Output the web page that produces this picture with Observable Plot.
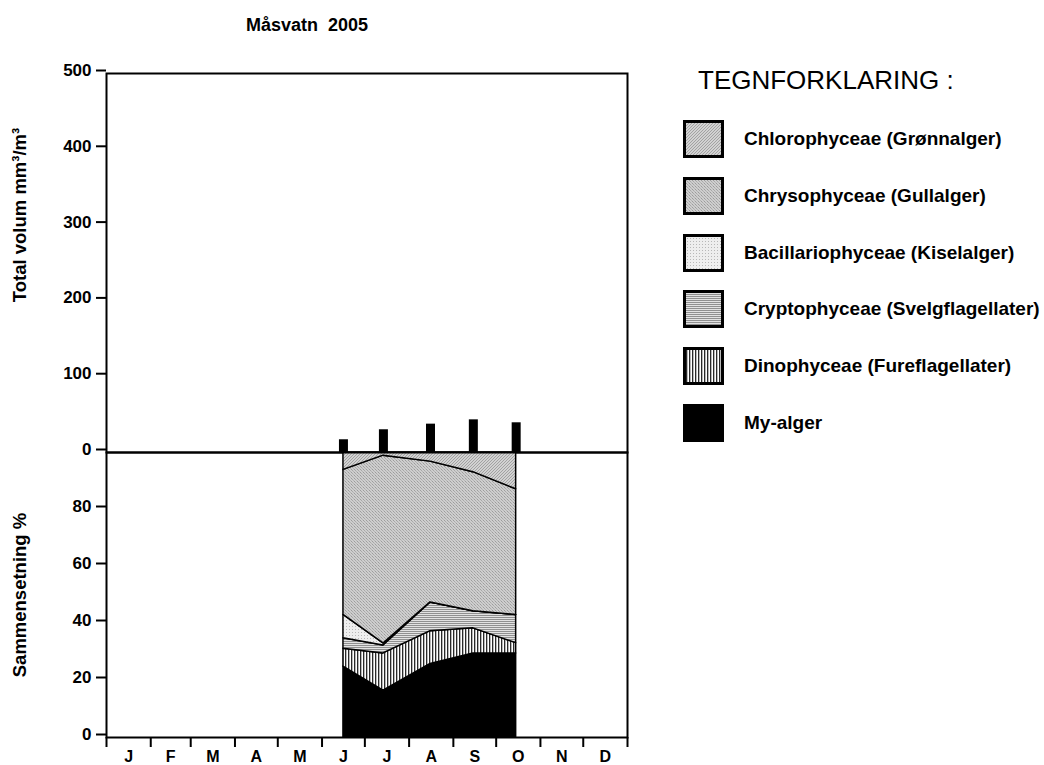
<!DOCTYPE html>
<html>
<head>
<meta charset="utf-8">
<script src="https://cdn.jsdelivr.net/npm/d3@7"></script>
<script src="https://cdn.jsdelivr.net/npm/@observablehq/plot@0.6"></script>
<style>
  html, body { margin: 0; padding: 0; background: white; }
  #wrap { position: relative; width: 1044px; height: 765px; font-family: "Liberation Sans", Arial, sans-serif; color: black; overflow: hidden; }
  .abs { position: absolute; }
  .ytitle { position: absolute; font-weight: bold; font-size: 18.5px; white-space: nowrap; transform: translate(-50%, -50%) rotate(-90deg); }
  .legitem { position: absolute; left: 683px; display: flex; align-items: center; height: 38px; }
  .legitem svg { display: block; }
  .legitem span { margin-left: 20px; font-weight: bold; font-size: 19px; white-space: nowrap; }
</style>
</head>
<body>
<div id="wrap">
  <svg width="0" height="0" style="position:absolute">
    <defs>
      <pattern id="pChloro" width="3" height="3" patternUnits="userSpaceOnUse">
        <rect width="3" height="3" fill="#d2d2d2"/>
        <rect x="2" y="0" width="1" height="1" fill="#a2a2a2"/>
        <rect x="1" y="1" width="1" height="1" fill="#a2a2a2"/>
        <rect x="0" y="2" width="1" height="1" fill="#a2a2a2"/>
      </pattern>
      <pattern id="pChryso" width="3" height="3" patternUnits="userSpaceOnUse">
        <rect width="3" height="3" fill="#cecece"/>
        <rect x="0" y="0" width="1" height="1" fill="#9c9c9c"/>
        <rect x="1" y="1" width="1" height="1" fill="#a8a8a8"/>
        <rect x="2" y="2" width="1" height="1" fill="#b4b4b4"/>
      </pattern>
      <pattern id="pBac" width="3" height="3" patternUnits="userSpaceOnUse">
        <rect width="3" height="3" fill="#eeeeee"/>
        <rect x="1" y="1" width="1" height="1" fill="#b8b8b8"/>
      </pattern>
      <pattern id="pCrypto" width="2" height="2" patternUnits="userSpaceOnUse">
        <rect width="2" height="2" fill="#e2e2e2"/>
        <rect x="0" y="0" width="2" height="1" fill="#909090"/>
      </pattern>
      <pattern id="pDino" width="3" height="3" patternUnits="userSpaceOnUse">
        <rect width="3" height="3" fill="#ffffff"/>
        <rect x="0" y="0" width="1" height="3" fill="#2a2a2a"/>
        <rect x="1" y="0" width="1" height="3" fill="#b8b8b8"/>
      </pattern>
    </defs>
  </svg>
  <div id="title" class="abs" style="left:307px; top:25px; transform:translate(-50%,-50%); font-weight:bold; font-size:18px; white-space:pre;"></div>
  <div id="upper" class="abs" style="left:0; top:0;"></div>
  <div id="lower" class="abs" style="left:0; top:445px;"></div>
  <div id="ytitle1" class="ytitle" style="left:20px; top:215px;"></div>
  <div id="ytitle2" class="ytitle" style="left:20px; top:595px;"></div>
  <div id="legtitle" class="abs" style="left:698px; top:65px; font-size:26px; white-space:pre;"></div>
  <div id="legend"></div>
</div>
<script>
// ---------- data ----------
const chartTitle = "Måsvatn  2005";
const yTitleUpper = "Total volum mm³/m³";
const yTitleLower = "Sammensetning %";
const legendTitle = "TEGNFORKLARING :";

const monthLabels = ["J","F","M","A","M","J","J","A","S","O","N","D"];
const upperTicks = [0, 100, 200, 300, 400, 500];
const lowerTicks = [0, 20, 40, 60, 80];

// sampling dates (2005)
const sampleDates = ["2005-06-16", "2005-07-14", "2005-08-16", "2005-09-15", "2005-10-15"];
// total volume, mm3/m3
const totalVolume = [16.8, 30.0, 37.4, 43.1, 39.2];

// composition, % (bottom to top of stack)
const groups = [
  "My-alger",
  "Dinophyceae (Fureflagellater)",
  "Cryptophyceae (Svelgflagellater)",
  "Bacillariophyceae (Kiselalger)",
  "Chrysophyceae (Gullalger)",
  "Chlorophyceae (Grønnalger)"
];
const myAlger   = [24.9, 16.4, 25.8, 29.5, 29.5];
const dino      = [6.2, 13.1, 11.5, 8.8, 3.6];
const crypto    = [3.7, 2.8, 10.1, 6.0, 9.9];
const bacillario= [8.2, 0.7, 0.0, 0.0, 0.0];
const chryso    = [50.9, 65.9, 49.4, 48.8, 44.1];
const chloro    = [6.1, 1.1, 3.2, 6.9, 12.9];
const groupValues = [myAlger, dino, crypto, bacillario, chryso, chloro];
const groupFills = ["black", "url(#pDino)", "url(#pCrypto)", "url(#pBac)", "url(#pChryso)", "url(#pChloro)"];

// legend order (top to bottom)
const legendOrder = [
  "Chlorophyceae (Grønnalger)",
  "Chrysophyceae (Gullalger)",
  "Bacillariophyceae (Kiselalger)",
  "Cryptophyceae (Svelgflagellater)",
  "Dinophyceae (Fureflagellater)",
  "My-alger"
];

// ---------- derived tables ----------
const parse = d3.utcParse("%Y-%m-%d");
const dates = sampleDates.map(parse);
const totals = dates.map((d, i) => ({date: d, total: totalVolume[i]}));
const comp = [];
groups.forEach((g, gi) => dates.forEach((d, i) => comp.push({date: d, group: g, value: groupValues[gi][i]})));

const x0 = new Date(Date.UTC(2005, 0, 1));
const x1 = new Date(Date.UTC(2006, 0, 1));
const monthStarts = d3.range(13).map(m => new Date(Date.UTC(2005, m, 1)));
const monthMids = d3.range(12).map(m => new Date((monthStarts[m].getTime() + monthStarts[m + 1].getTime()) / 2));

const font = "Liberation Sans, Arial, sans-serif";
const common = {
  width: 1044,
  marginLeft: 106,
  marginRight: 417,
  style: {background: "transparent", fontFamily: font, color: "black", overflow: "visible"}
};

const upper = Plot.plot({
  ...common,
  height: 455,
  marginTop: 73,
  marginBottom: 3,
  x: {type: "utc", domain: [x0, x1], axis: null},
  y: {domain: [0, 500], axis: null},
  marks: [
    Plot.ruleX(totals, {x: "date", y1: 0, y2: "total", stroke: "black", strokeWidth: 9}),
    Plot.axisY({ticks: upperTicks, tickSize: 10, tickPadding: 5, tickFormat: d => String(d),
      strokeWidth: 2, fontSize: 17, fontWeight: "bold", dy: -3, label: null}),
    Plot.frame({stroke: "black", strokeWidth: 2})
  ]
});

const lower = Plot.plot({
  ...common,
  height: 320,
  marginTop: 7,
  marginBottom: 28,
  x: {type: "utc", domain: [x0, x1], axis: null},
  y: {domain: [0, 100], axis: null},
  color: {type: "ordinal", domain: groups, range: groupFills},
  marks: [
    Plot.areaY(comp, {x: "date", y: "value", z: "group", fill: "group", order: groups,
      stroke: "black", strokeWidth: 1.5, strokeLinejoin: "round"}),
    Plot.axisY({ticks: lowerTicks, tickSize: 10, tickPadding: 5, tickFormat: d => String(d),
      strokeWidth: 2, fontSize: 17, fontWeight: "bold", dy: -3, label: null}),
    Plot.axisX({ticks: monthStarts, tickSize: 10, tickFormat: () => "", strokeWidth: 2, label: null}),
    Plot.axisX({ticks: monthMids, tickSize: 0, tickPadding: 13, tickFormat: (d, i) => monthLabels[d.getUTCMonth()],
      fontSize: 16, fontWeight: "bold", label: null}),
    Plot.frame({stroke: "black", strokeWidth: 2})
  ]
});

document.getElementById("upper").appendChild(upper);
document.getElementById("lower").appendChild(lower);
document.getElementById("title").textContent = chartTitle;
document.getElementById("ytitle1").textContent = yTitleUpper;
document.getElementById("ytitle2").textContent = yTitleLower;
document.getElementById("legtitle").textContent = legendTitle;

const legend = document.getElementById("legend");
legendOrder.forEach((g, i) => {
  const fill = groupFills[groups.indexOf(g)];
  const item = document.createElement("div");
  item.className = "legitem";
  item.style.top = (120 + i * 56.8) + "px";
  item.innerHTML = `<svg width="41" height="38"><rect x="1.5" y="1.5" width="38" height="35" fill="${fill}" stroke="black" stroke-width="3"/></svg><span></span>`;
  item.querySelector("span").textContent = g;
  legend.appendChild(item);
});
</script>
</body>
</html>
